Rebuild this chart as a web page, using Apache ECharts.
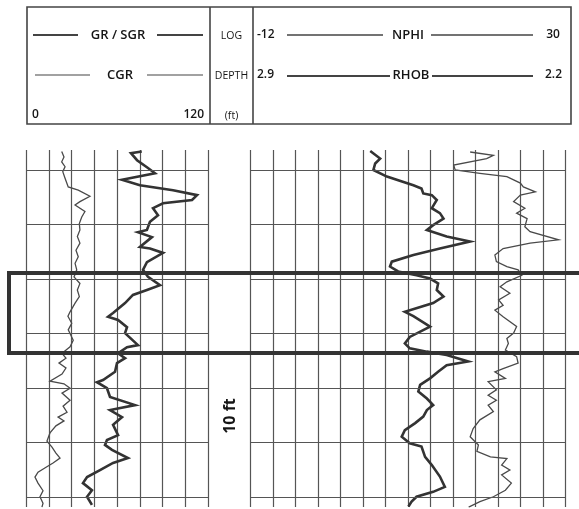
<!DOCTYPE html>
<html>
<head>
<meta charset="utf-8">
<script src="https://cdn.jsdelivr.net/npm/echarts@6/dist/echarts.min.js"></script>
<style>
  html, body { margin: 0; padding: 0; background: #ffffff; }
  #chart { width: 579px; height: 509px; }
</style>
</head>
<body>
<div id="chart"></div>
<script>
// Track scales
const grScale = [0, 120];
const nphiScale = [-12, 30];
const rhobScale = [2.2, 2.9];
const depthRange = [4996.33, 5061.78];
const depthLines = [5000, 5010, 5020, 5030, 5040, 5050, 5060];
const zoneInterval = [5018.9, 5033.5];

// GR / SGR (total gamma ray)
const grDepth = [4996.6, 4996.9, 4998.2, 4999.5, 5000.6, 5001.8, 5002.8, 5003.7, 5004.6, 5005.5, 5006.1, 5007.0, 5008.3, 5009.5, 5011.0, 5011.4, 5012.3, 5014.1, 5014.4, 5015.2, 5016.9, 5018.3, 5019.6, 5021.1, 5022.0, 5022.9, 5024.4, 5026.2, 5026.9, 5027.5, 5028.8, 5029.9, 5032.1, 5032.5, 5033.6, 5034.5, 5035.4, 5037.0, 5038.5, 5038.9, 5040.0, 5041.6, 5043.1, 5044.0, 5045.3, 5046.7, 5048.6, 5049.5, 5050.4, 5051.3, 5052.8, 5053.7, 5055.0, 5056.3, 5057.4, 5058.7, 5059.9, 5061.4];
const grValues = [76.2, 69.1, 73.1, 79.6, 84.9, 63.2, 75.0, 96.8, 112.6, 109.3, 90.2, 83.6, 86.9, 81.6, 79.6, 73.7, 82.9, 75.0, 81.6, 90.2, 79.6, 77.0, 80.3, 88.2, 79.6, 70.4, 65.2, 57.3, 54.0, 60.6, 66.5, 65.2, 73.7, 66.5, 60.6, 65.2, 59.9, 58.6, 50.7, 46.7, 53.3, 55.3, 71.8, 55.3, 63.2, 57.3, 60.6, 53.3, 52.0, 56.6, 67.1, 57.3, 48.7, 40.2, 37.5, 43.4, 40.2, 43.4];

// CGR (computed gamma ray)
const cgrDepth = [4996.6, 4997.6, 4998.5, 4999.4, 5000.3, 5001.5, 5003.1, 5003.7, 5004.8, 5005.8, 5006.4, 5007.6, 5008.6, 5009.8, 5011.0, 5012.2, 5013.4, 5014.7, 5015.9, 5017.1, 5018.3, 5019.6, 5020.8, 5022.0, 5023.2, 5024.4, 5026.0, 5026.8, 5028.1, 5029.3, 5031.2, 5032.4, 5033.6, 5034.5, 5035.4, 5036.3, 5037.4, 5038.7, 5039.2, 5040.0, 5040.9, 5042.2, 5043.3, 5044.4, 5045.3, 5046.0, 5046.9, 5048.2, 5049.7, 5050.8, 5051.9, 5052.8, 5053.7, 5054.5, 5055.4, 5056.3, 5057.4, 5058.8, 5059.9, 5061.1, 5061.8];
const cgrValues = [23.5, 25.0, 23.5, 25.7, 24.2, 25.7, 27.8, 34.4, 42.1, 35.5, 32.3, 38.8, 36.7, 35.1, 35.5, 33.8, 35.5, 32.9, 34.4, 32.3, 33.4, 31.6, 35.5, 33.8, 35.1, 32.3, 29.0, 27.6, 30.1, 27.8, 31.1, 29.0, 23.7, 26.3, 21.7, 26.3, 23.7, 15.8, 25.0, 29.0, 23.7, 29.0, 24.4, 27.0, 21.1, 25.0, 19.7, 15.8, 13.8, 17.1, 19.7, 22.4, 17.8, 13.2, 7.9, 5.9, 7.9, 11.2, 9.2, 11.2, 10.5];

// RHOB (bulk density, g/cc)
const rhobDepth = [4996.5, 4997.9, 4998.8, 5000.0, 5001.2, 5002.8, 5003.4, 5004.3, 5004.6, 5005.5, 5007.0, 5007.9, 5008.9, 5010.1, 5011.0, 5012.2, 5013.1, 5014.4, 5015.6, 5016.8, 5017.7, 5018.6, 5019.3, 5019.9, 5020.8, 5022.0, 5023.2, 5024.4, 5026.0, 5026.8, 5028.7, 5030.6, 5031.8, 5032.7, 5033.3, 5033.9, 5035.1, 5035.8, 5037.0, 5038.2, 5039.4, 5040.6, 5041.9, 5043.1, 5044.0, 5045.2, 5046.4, 5047.7, 5048.9, 5050.1, 5050.7, 5052.6, 5054.1, 5056.2, 5058.1, 5059.0, 5059.9, 5060.8, 5061.7];
const rhobValues = [2.634, 2.612, 2.623, 2.627, 2.597, 2.538, 2.520, 2.516, 2.497, 2.486, 2.497, 2.479, 2.471, 2.494, 2.508, 2.464, 2.412, 2.479, 2.538, 2.586, 2.590, 2.572, 2.531, 2.501, 2.483, 2.486, 2.471, 2.494, 2.557, 2.538, 2.501, 2.546, 2.557, 2.546, 2.508, 2.464, 2.416, 2.464, 2.483, 2.501, 2.523, 2.527, 2.508, 2.494, 2.508, 2.516, 2.534, 2.557, 2.564, 2.546, 2.520, 2.512, 2.497, 2.479, 2.468, 2.494, 2.531, 2.542, 2.549];

// NPHI (neutron porosity)
const nphiDepth = [4996.7, 4997.3, 4997.9, 4999.1, 5000.0, 5000.6, 5001.2, 5002.4, 5003.1, 5004.0, 5004.6, 5005.8, 5007.0, 5007.9, 5008.9, 5010.4, 5011.3, 5012.8, 5013.4, 5014.4, 5015.6, 5016.8, 5017.7, 5018.3, 5019.3, 5020.5, 5021.4, 5022.6, 5023.8, 5024.8, 5025.7, 5026.9, 5028.7, 5029.9, 5030.9, 5031.8, 5033.0, 5034.2, 5035.4, 5036.4, 5037.0, 5038.2, 5038.8, 5040.3, 5041.3, 5042.2, 5043.1, 5044.3, 5045.8, 5047.4, 5048.9, 5050.4, 5051.6, 5052.6, 5052.9, 5054.1, 5055.0, 5055.9, 5057.4, 5058.7, 5059.9, 5060.8, 5061.8];
const nphiValues = [17.3, 20.4, 19.5, 15.1, 15.3, 18.6, 22.2, 24.0, 24.4, 26.0, 24.0, 23.1, 24.6, 23.5, 24.9, 24.6, 25.3, 29.1, 25.3, 21.7, 20.6, 20.8, 22.2, 23.7, 24.2, 22.2, 21.3, 22.6, 21.1, 21.7, 20.6, 21.7, 23.5, 23.1, 22.2, 22.4, 22.0, 23.5, 23.7, 21.7, 20.6, 22.0, 19.7, 20.8, 19.7, 20.8, 19.7, 20.4, 18.6, 17.7, 17.3, 18.4, 18.2, 20.0, 22.2, 21.5, 22.6, 21.5, 22.8, 22.0, 20.4, 18.6, 17.1];

const GRID_COLOR = '#555555';
const FONT = '"Open Sans", "Noto Sans", sans-serif';

function pairs(values, depths) {
  return values.map((v, i) => [v, depths[i]]);
}

function hiddenValueAxis(extra) {
  return Object.assign({
    type: 'value',
    axisLine: { show: false },
    axisTick: { show: false },
    axisLabel: { show: false },
    splitLine: { show: false }
  }, extra);
}

function depthAxis(gridIndex) {
  return hiddenValueAxis({
    gridIndex: gridIndex,
    min: depthRange[0],
    max: depthRange[1],
    inverse: true
  });
}

const depthMarkLines = {
  silent: true,
  symbol: 'none',
  label: { show: false },
  lineStyle: { color: GRID_COLOR, width: 1.2, type: 'solid' },
  data: depthLines.map(d => ({ yAxis: d }))
};

function curve(name, xIdx, yIdx, data, width, color, extra) {
  return Object.assign({
    name: name,
    type: 'line',
    xAxisIndex: xIdx,
    yAxisIndex: yIdx,
    data: data,
    symbol: 'none',
    showSymbol: false,
    clip: true,
    lineStyle: { width: width, color: color, join: 'miter' },
    z: 3
  }, extra || {});
}

function txt(text, x, y, size, align, weight) {
  return {
    type: 'text',
    x: x, y: y,
    style: {
      text: text,
      font: (weight || 600) + ' ' + size + 'px ' + FONT,
      fill: '#151515',
      textAlign: align || 'center',
      textVerticalAlign: 'middle',
      verticalAlign: 'middle'
    }
  };
}

function hline(x1, x2, y, w) {
  return {
    type: 'line',
    shape: { x1: x1, y1: y, x2: x2, y2: y },
    style: { stroke: '#444', lineWidth: w }
  };
}

const chart = echarts.init(document.getElementById('chart'), null, { renderer: 'canvas' });

chart.setOption({
  animation: false,
  backgroundColor: '#ffffff',
  grid: [
    { left: 26, top: 150, width: 182.3, height: 357 },
    { left: 250.7, top: 150, width: 314.6, height: 357 },
    { left: 9, top: 150, right: 0, height: 357 }
  ],
  xAxis: [
    hiddenValueAxis({
      gridIndex: 0, min: grScale[0], max: grScale[1], interval: 15,
      splitLine: { show: true, lineStyle: { color: GRID_COLOR, width: 1.2 } }
    }),
    hiddenValueAxis({
      gridIndex: 1, min: nphiScale[0], max: nphiScale[1], interval: 3,
      splitLine: { show: true, lineStyle: { color: GRID_COLOR, width: 1.2 } }
    }),
    hiddenValueAxis({
      gridIndex: 1, min: rhobScale[0], max: rhobScale[1], inverse: true
    }),
    hiddenValueAxis({ gridIndex: 2, min: 0, max: 1 })
  ],
  yAxis: [depthAxis(0), depthAxis(1), depthAxis(2)],
  series: [
    curve('CGR', 0, 0, pairs(cgrValues, cgrDepth), 1.3, '#4a4a4a', { markLine: depthMarkLines }),
    curve('GR / SGR', 0, 0, pairs(grValues, grDepth), 2.6, '#333333'),
    curve('NPHI', 1, 1, pairs(nphiValues, nphiDepth), 1.3, '#4a4a4a', { markLine: depthMarkLines }),
    curve('RHOB', 2, 1, pairs(rhobValues, rhobDepth), 2.6, '#333333'),
    {
      // highlighted depth interval, open towards the right edge
      name: 'zone',
      type: 'line',
      xAxisIndex: 3,
      yAxisIndex: 2,
      data: [],
      z: 5,
      markLine: {
        silent: true,
        symbol: 'none',
        label: { show: false },
        lineStyle: { color: '#333333', width: 4, type: 'solid', cap: 'square' },
        data: [
          { yAxis: zoneInterval[0] },
          { yAxis: zoneInterval[1] },
          [{ coord: [0, zoneInterval[0]] }, { coord: [0, zoneInterval[1]] }]
        ]
      }
    }
  ],
  graphic: [
    {
      type: 'group',
      silent: true,
      children: [
        { type: 'rect', shape: { x: 27, y: 7, width: 544, height: 117 },
          style: { fill: 'none', stroke: '#444', lineWidth: 1.6 } },
        { type: 'line', shape: { x1: 210, y1: 7, x2: 210, y2: 124 }, style: { stroke: '#444', lineWidth: 1.6 } },
        { type: 'line', shape: { x1: 253, y1: 7, x2: 253, y2: 124 }, style: { stroke: '#444', lineWidth: 1.6 } },

        // GR track header
        hline(33, 78, 35, 2.2), txt('GR / SGR', 118, 35, 13), hline(157, 203, 35, 2.2),
        hline(35, 90, 75, 1.2), txt('CGR', 120, 75, 13), hline(147, 203, 75, 1.2),
        txt('0', 32, 115, 12, 'left'), txt('120', 204, 115, 12, 'right'),

        // depth column header
        txt('LOG', 231.5, 36, 10.5, 'center', 400),
        txt('DEPTH', 231.5, 76, 10.5, 'center', 400),
        txt('(ft)', 231.5, 116, 10.5, 'center', 400),

        // porosity / density header
        txt('-12', 257, 35, 12, 'left'), hline(287, 383, 35, 1.3), txt('NPHI', 408, 35, 13),
        hline(431, 533, 35, 1.3), txt('30', 553, 35, 12),
        txt('2.9', 257, 75, 12, 'left'), hline(287, 390, 76, 2.0), txt('RHOB', 411, 75, 13),
        hline(432, 533, 76, 2.0), txt('2.2', 545, 75, 12, 'left')
      ]
    },
    {
      type: 'text',
      x: 230, y: 416,
      rotation: Math.PI / 2,
      silent: true,
      style: {
        text: '10 ft',
        font: '700 16px ' + FONT,
        fill: '#151515',
        textAlign: 'center',
        textVerticalAlign: 'middle',
        verticalAlign: 'middle'
      }
    }
  ]
});
</script>
</body>
</html>
